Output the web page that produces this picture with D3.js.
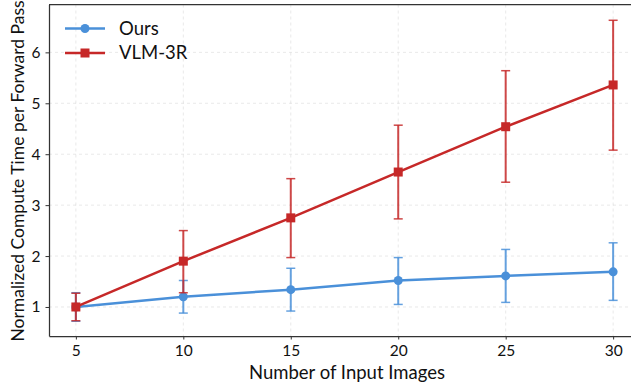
<!DOCTYPE html>
<html>
<head>
<meta charset="utf-8">
<script src="https://cdn.jsdelivr.net/npm/d3@7"></script>
<style>
  body { margin: 0; background: #fff; }
  svg { font-family: Lato, "Open Sans", sans-serif; }
</style>
</head>
<body>
<div id="chart"></div>
<script>
// values
var images = [5, 10, 15, 20, 25, 30];
var oursMean = [1.00, 1.20, 1.34, 1.52, 1.61, 1.69];
var oursLow  = [0.72, 0.88, 0.92, 1.05, 1.09, 1.13];
var oursHigh = [1.28, 1.52, 1.76, 1.97, 2.13, 2.26];
var vlmMean = [1.00, 1.90, 2.75, 3.65, 4.54, 5.36];
var vlmLow  = [0.73, 1.28, 1.97, 2.73, 3.45, 4.08];
var vlmHigh = [1.27, 2.50, 3.52, 4.57, 5.64, 6.63];
var yTicks = [1, 2, 3, 4, 5, 6];

var width = 631, height = 385;
var margin = {top: 4.5, right: -9, bottom: 49, left: 49};
var w = width - margin.left - margin.right,
    h = height - margin.top - margin.bottom;

var svg = d3.select("#chart").append("svg")
    .attr("width", width)
    .attr("height", height);

var g = svg.append("g")
    .attr("transform", "translate(" + margin.left + "," + margin.top + ")");

var x = d3.scaleLinear().domain([3.75, 31.25]).range([0, w]);
var y = d3.scaleLinear().domain([0.43, 6.94]).range([h, 0]);

// grid
g.append("g").selectAll("line.gx")
    .data(images).enter().append("line")
    .attr("x1", d => x(d)).attr("x2", d => x(d))
    .attr("y1", 0).attr("y2", h)
    .style("stroke", "#b0b0b0").style("stroke-opacity", 0.35)
    .style("stroke-width", 0.8).style("stroke-dasharray", "3,3");
g.append("g").selectAll("line.gy")
    .data(yTicks).enter().append("line")
    .attr("y1", d => y(d)).attr("y2", d => y(d))
    .attr("x1", 0).attr("x2", w)
    .style("stroke", "#b0b0b0").style("stroke-opacity", 0.35)
    .style("stroke-width", 0.8).style("stroke-dasharray", "3,3");

// axes
var xAxis = g.append("g")
    .attr("transform", "translate(0," + h + ")")
    .call(d3.axisBottom(x).tickValues(images).tickFormat(d3.format("d"))
        .tickSize(3.5).tickPadding(5).tickSizeOuter(0));
var yAxis = g.append("g")
    .call(d3.axisLeft(y).tickValues(yTicks).tickFormat(d3.format("d"))
        .tickSize(3.5).tickPadding(5).tickSizeOuter(0));
[xAxis, yAxis].forEach(function(a) {
    a.select(".domain").style("stroke", "#333").style("stroke-width", 1.25);
    a.selectAll(".tick line").style("stroke", "#333").style("stroke-width", 1);
    a.selectAll(".tick text").style("font-size", "15.5px").style("fill", "#111")
        .style("font-family", "Lato, 'Open Sans', sans-serif");
});

// top spine
g.append("line").attr("x1", 0).attr("x2", w).attr("y1", 0).attr("y2", 0)
    .style("stroke", "#333").style("stroke-width", 1.25);

var series = [
    {name: "Ours", mean: oursMean, low: oursLow, high: oursHigh, color: "#4a90d9", marker: "circle"},
    {name: "VLM-3R", mean: vlmMean, low: vlmLow, high: vlmHigh, color: "#c62828", marker: "square"}
];

var line = d3.line()
    .x(d => x(d[0]))
    .y(d => y(d[1]));

series.forEach(function(s) {
    var pts = images.map((d, i) => [d, s.mean[i], s.low[i], s.high[i]]);
    var sg = g.append("g");

    // error bars
    sg.selectAll("line.err").data(pts).enter().append("line")
        .attr("x1", d => x(d[0])).attr("x2", d => x(d[0]))
        .attr("y1", d => y(d[2])).attr("y2", d => y(d[3]))
        .style("stroke", s.color).style("stroke-width", 2).style("stroke-opacity", 0.85);
    [2, 3].forEach(function(k) {
        sg.selectAll("line.cap" + k).data(pts).enter().append("line")
            .attr("x1", d => x(d[0]) - 4.5).attr("x2", d => x(d[0]) + 4.5)
            .attr("y1", d => y(d[k])).attr("y2", d => y(d[k]))
            .style("stroke", s.color).style("stroke-width", 1.5).style("stroke-opacity", 0.85);
    });

    sg.append("path").datum(pts)
        .attr("d", line)
        .style("fill", "none").style("stroke", s.color).style("stroke-width", 2.5);

    if (s.marker === "circle") {
        sg.selectAll("circle").data(pts).enter().append("circle")
            .attr("cx", d => x(d[0])).attr("cy", d => y(d[1])).attr("r", 4.5)
            .style("fill", s.color);
    } else {
        sg.selectAll("rect").data(pts).enter().append("rect")
            .attr("x", d => x(d[0]) - 4.5).attr("y", d => y(d[1]) - 4.5)
            .attr("width", 9).attr("height", 9)
            .style("fill", s.color);
    }
});

// legend
var legend = g.append("g").attr("transform", "translate(16,24)");
series.forEach(function(s, i) {
    var lg = legend.append("g").attr("transform", "translate(0," + (i * 24.5) + ")");
    lg.append("line").attr("x1", 0).attr("x2", 40).attr("y1", 0).attr("y2", 0)
        .style("stroke", s.color).style("stroke-width", 2.5);
    if (s.marker === "circle") {
        lg.append("circle").attr("cx", 20).attr("cy", 0).attr("r", 4.5).style("fill", s.color);
    } else {
        lg.append("rect").attr("x", 15.5).attr("y", -4.5).attr("width", 9).attr("height", 9).style("fill", s.color);
    }
    lg.append("text").attr("x", 54).attr("y", 0).attr("dy", "0.35em")
        .style("font-size", "18.5px").style("fill", "#111").text(s.name);
});

// axis labels
svg.append("text")
    .attr("x", 347)
    .attr("y", 379)
    .attr("text-anchor", "middle")
    .style("font-size", "18.5px").style("fill", "#111")
    .text("Number of Input Images");

svg.append("text")
    .attr("transform", "translate(24,171) rotate(-90)")
    .attr("text-anchor", "middle")
    .style("font-size", "17.5px").style("fill", "#111")
    .text("Normalized Compute Time per Forward Pass");
</script>
</body>
</html>
